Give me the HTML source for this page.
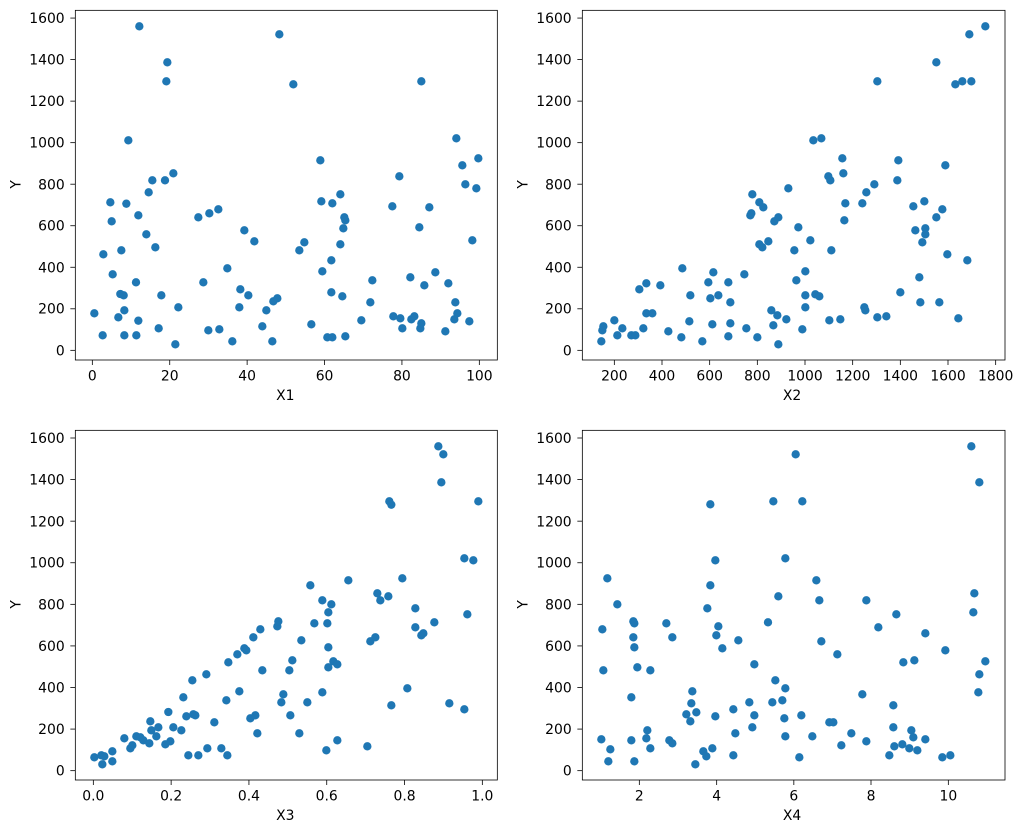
<!DOCTYPE html>
<html><head><meta charset="utf-8"><style>
html,body{margin:0;padding:0;background:#fff;}
svg{display:block;}
text{font-family:"DejaVu Sans","Liberation Sans",sans-serif;font-size:41.7px;fill:#000;}
.pts circle{fill:#1f77b4;}
.ax line{stroke:#000;stroke-width:2.4;}
.fr{fill:none;stroke:#000;stroke-width:2.4;}
</style></head><body>
<svg width="1023" height="833" viewBox="0 0 1023 833" xmlns="http://www.w3.org/2000/svg">
<!-- Panel 1 -->
<g transform="translate(0,0) scale(0.3333333)">
<g class="pts">
<circle cx="283" cy="940" r="12.5"/><circle cx="308" cy="1006" r="12.5"/><circle cx="310" cy="763" r="12.5"/><circle cx="331" cy="607" r="12.5"/><circle cx="335" cy="664" r="12.5"/><circle cx="338" cy="823" r="12.5"/><circle cx="355" cy="952" r="12.5"/><circle cx="361" cy="882" r="12.5"/><circle cx="364" cy="751" r="12.5"/><circle cx="371" cy="886" r="12.5"/><circle cx="373" cy="931" r="12.5"/><circle cx="373" cy="1006" r="12.5"/><circle cx="379" cy="611" r="12.5"/><circle cx="385" cy="421" r="12.5"/><circle cx="408" cy="847" r="12.5"/><circle cx="409" cy="1006" r="12.5"/><circle cx="415" cy="646" r="12.5"/><circle cx="415" cy="962" r="12.5"/><circle cx="418" cy="79" r="12.5"/><circle cx="439" cy="703" r="12.5"/><circle cx="446" cy="577" r="12.5"/><circle cx="457" cy="541" r="12.5"/><circle cx="466" cy="742" r="12.5"/><circle cx="476" cy="985" r="12.5"/><circle cx="484" cy="886" r="12.5"/><circle cx="495" cy="541" r="12.5"/><circle cx="499" cy="244" r="12.5"/><circle cx="502" cy="187" r="12.5"/><circle cx="520" cy="520" r="12.5"/><circle cx="526" cy="1033" r="12.5"/><circle cx="535" cy="922" r="12.5"/><circle cx="595" cy="652" r="12.5"/><circle cx="610" cy="847" r="12.5"/><circle cx="625" cy="991" r="12.5"/><circle cx="628" cy="640" r="12.5"/><circle cx="655" cy="628" r="12.5"/><circle cx="658" cy="988" r="12.5"/><circle cx="682" cy="805" r="12.5"/><circle cx="697" cy="1024" r="12.5"/><circle cx="718" cy="922" r="12.5"/><circle cx="721" cy="868" r="12.5"/><circle cx="733" cy="691" r="12.5"/><circle cx="745" cy="886" r="12.5"/><circle cx="763" cy="724" r="12.5"/><circle cx="787" cy="979" r="12.5"/><circle cx="799" cy="931" r="12.5"/><circle cx="817" cy="1024" r="12.5"/><circle cx="820" cy="904" r="12.5"/><circle cx="832" cy="895" r="12.5"/><circle cx="838" cy="103" r="12.5"/><circle cx="880" cy="253" r="12.5"/><circle cx="898" cy="751" r="12.5"/><circle cx="913" cy="727" r="12.5"/><circle cx="934" cy="973" r="12.5"/><circle cx="961" cy="481" r="12.5"/><circle cx="964" cy="604" r="12.5"/><circle cx="967" cy="814" r="12.5"/><circle cx="982" cy="1012" r="12.5"/><circle cx="994" cy="781" r="12.5"/><circle cx="994" cy="877" r="12.5"/><circle cx="997" cy="610" r="12.5"/><circle cx="997" cy="1012" r="12.5"/><circle cx="1021" cy="583" r="12.5"/><circle cx="1021" cy="733" r="12.5"/><circle cx="1027" cy="889" r="12.5"/><circle cx="1030" cy="685" r="12.5"/><circle cx="1033" cy="652" r="12.5"/><circle cx="1036" cy="661" r="12.5"/><circle cx="1036" cy="1009" r="12.5"/><circle cx="1084" cy="961" r="12.5"/><circle cx="1111" cy="907" r="12.5"/><circle cx="1117" cy="841" r="12.5"/><circle cx="1177" cy="619" r="12.5"/><circle cx="1180" cy="949" r="12.5"/><circle cx="1198" cy="529" r="12.5"/><circle cx="1201" cy="955" r="12.5"/><circle cx="1207" cy="985" r="12.5"/><circle cx="1231" cy="832" r="12.5"/><circle cx="1234" cy="958" r="12.5"/><circle cx="1243" cy="949" r="12.5"/><circle cx="1258" cy="682" r="12.5"/><circle cx="1261" cy="985" r="12.5"/><circle cx="1264" cy="244" r="12.5"/><circle cx="1264" cy="970" r="12.5"/><circle cx="1273" cy="856" r="12.5"/><circle cx="1288" cy="622" r="12.5"/><circle cx="1306" cy="817" r="12.5"/><circle cx="1336" cy="994" r="12.5"/><circle cx="1345" cy="850" r="12.5"/><circle cx="1363" cy="958" r="12.5"/><circle cx="1366" cy="907" r="12.5"/><circle cx="1369" cy="415" r="12.5"/><circle cx="1372" cy="940" r="12.5"/><circle cx="1387" cy="496" r="12.5"/><circle cx="1396" cy="553" r="12.5"/><circle cx="1408" cy="964" r="12.5"/><circle cx="1417" cy="721" r="12.5"/><circle cx="1429" cy="565" r="12.5"/><circle cx="1435" cy="475" r="12.5"/>
</g>
<rect class="fr" x="226" y="31" width="1266" height="1049"/>
<g class="ax">
<line x1="211" y1="1051" x2="226" y2="1051"/><line x1="211" y1="926.4" x2="226" y2="926.4"/><line x1="211" y1="801.8" x2="226" y2="801.8"/><line x1="211" y1="677.2" x2="226" y2="677.2"/><line x1="211" y1="552.6" x2="226" y2="552.6"/><line x1="211" y1="428" x2="226" y2="428"/><line x1="211" y1="303.4" x2="226" y2="303.4"/><line x1="211" y1="178.8" x2="226" y2="178.8"/><line x1="211" y1="54.2" x2="226" y2="54.2"/>
<line x1="277" y1="1080" x2="277" y2="1095"/><line x1="509.2" y1="1080" x2="509.2" y2="1095"/><line x1="741.4" y1="1080" x2="741.4" y2="1095"/><line x1="973.6" y1="1080" x2="973.6" y2="1095"/><line x1="1205.8" y1="1080" x2="1205.8" y2="1095"/><line x1="1438" y1="1080" x2="1438" y2="1095"/>
</g>
<g text-anchor="end">
<text x="194" y="1066">0</text><text x="194" y="941">200</text><text x="194" y="817">400</text><text x="194" y="692">600</text><text x="194" y="568">800</text><text x="194" y="443">1000</text><text x="194" y="318">1200</text><text x="194" y="194">1400</text><text x="194" y="69">1600</text>
</g>
<g text-anchor="middle">
<text x="277" y="1142">0</text><text x="509.2" y="1142">20</text><text x="741.4" y="1142">40</text><text x="973.6" y="1142">60</text><text x="1205.8" y="1142">80</text><text x="1438" y="1142">100</text>
<text x="856" y="1200">X1</text>
<text transform="translate(62,553) rotate(-90)">Y</text>
</g>
</g>

<!-- Panel 2 -->
<g transform="translate(500,0) scale(0.3333333)">
<g class="pts">
<circle cx="304" cy="1024" r="12.5"/><circle cx="307" cy="991" r="12.5"/><circle cx="310" cy="979" r="12.5"/><circle cx="343" cy="961" r="12.5"/><circle cx="352" cy="1006" r="12.5"/><circle cx="367" cy="985" r="12.5"/><circle cx="394" cy="1006" r="12.5"/><circle cx="406" cy="1006" r="12.5"/><circle cx="418" cy="868" r="12.5"/><circle cx="430" cy="985" r="12.5"/><circle cx="439" cy="850" r="12.5"/><circle cx="439" cy="940" r="12.5"/><circle cx="457" cy="940" r="12.5"/><circle cx="481" cy="856" r="12.5"/><circle cx="505" cy="994" r="12.5"/><circle cx="544" cy="1012" r="12.5"/><circle cx="547" cy="805" r="12.5"/><circle cx="568" cy="964" r="12.5"/><circle cx="571" cy="886" r="12.5"/><circle cx="607" cy="1024" r="12.5"/><circle cx="625" cy="847" r="12.5"/><circle cx="631" cy="895" r="12.5"/><circle cx="637" cy="973" r="12.5"/><circle cx="640" cy="817" r="12.5"/><circle cx="655" cy="886" r="12.5"/><circle cx="685" cy="1009" r="12.5"/><circle cx="685" cy="847" r="12.5"/><circle cx="691" cy="907" r="12.5"/><circle cx="691" cy="970" r="12.5"/><circle cx="733" cy="823" r="12.5"/><circle cx="739" cy="985" r="12.5"/><circle cx="751" cy="646" r="12.5"/><circle cx="754" cy="640" r="12.5"/><circle cx="757" cy="583" r="12.5"/><circle cx="772" cy="1012" r="12.5"/><circle cx="778" cy="733" r="12.5"/><circle cx="778" cy="607" r="12.5"/><circle cx="787" cy="742" r="12.5"/><circle cx="790" cy="622" r="12.5"/><circle cx="805" cy="724" r="12.5"/><circle cx="814" cy="931" r="12.5"/><circle cx="820" cy="976" r="12.5"/><circle cx="823" cy="664" r="12.5"/><circle cx="832" cy="946" r="12.5"/><circle cx="835" cy="652" r="12.5"/><circle cx="835" cy="1033" r="12.5"/><circle cx="859" cy="958" r="12.5"/><circle cx="865" cy="565" r="12.5"/><circle cx="883" cy="751" r="12.5"/><circle cx="889" cy="841" r="12.5"/><circle cx="895" cy="682" r="12.5"/><circle cx="907" cy="988" r="12.5"/><circle cx="916" cy="814" r="12.5"/><circle cx="916" cy="886" r="12.5"/><circle cx="916" cy="922" r="12.5"/><circle cx="931" cy="721" r="12.5"/><circle cx="940" cy="421" r="12.5"/><circle cx="946" cy="883" r="12.5"/><circle cx="958" cy="889" r="12.5"/><circle cx="964" cy="415" r="12.5"/><circle cx="985" cy="529" r="12.5"/><circle cx="988" cy="961" r="12.5"/><circle cx="991" cy="541" r="12.5"/><circle cx="994" cy="751" r="12.5"/><circle cx="1021" cy="958" r="12.5"/><circle cx="1027" cy="475" r="12.5"/><circle cx="1030" cy="520" r="12.5"/><circle cx="1036" cy="610" r="12.5"/><circle cx="1033" cy="661" r="12.5"/><circle cx="1087" cy="610" r="12.5"/><circle cx="1093" cy="922" r="12.5"/><circle cx="1096" cy="931" r="12.5"/><circle cx="1099" cy="577" r="12.5"/><circle cx="1123" cy="553" r="12.5"/><circle cx="1132" cy="244" r="12.5"/><circle cx="1132" cy="952" r="12.5"/><circle cx="1159" cy="949" r="12.5"/><circle cx="1192" cy="541" r="12.5"/><circle cx="1195" cy="481" r="12.5"/><circle cx="1201" cy="877" r="12.5"/><circle cx="1240" cy="619" r="12.5"/><circle cx="1246" cy="691" r="12.5"/><circle cx="1258" cy="832" r="12.5"/><circle cx="1261" cy="907" r="12.5"/><circle cx="1267" cy="727" r="12.5"/><circle cx="1273" cy="604" r="12.5"/><circle cx="1276" cy="685" r="12.5"/><circle cx="1276" cy="703" r="12.5"/><circle cx="1309" cy="187" r="12.5"/><circle cx="1309" cy="652" r="12.5"/><circle cx="1318" cy="907" r="12.5"/><circle cx="1327" cy="628" r="12.5"/><circle cx="1336" cy="496" r="12.5"/><circle cx="1342" cy="763" r="12.5"/><circle cx="1375" cy="955" r="12.5"/><circle cx="1366" cy="253" r="12.5"/><circle cx="1387" cy="244" r="12.5"/><circle cx="1402" cy="781" r="12.5"/><circle cx="1408" cy="103" r="12.5"/><circle cx="1414" cy="244" r="12.5"/><circle cx="1456" cy="79" r="12.5"/>
</g>
<rect class="fr" x="247" y="31" width="1268" height="1049"/>
<g class="ax">
<line x1="232" y1="1051" x2="247" y2="1051"/><line x1="232" y1="926.4" x2="247" y2="926.4"/><line x1="232" y1="801.8" x2="247" y2="801.8"/><line x1="232" y1="677.2" x2="247" y2="677.2"/><line x1="232" y1="552.6" x2="247" y2="552.6"/><line x1="232" y1="428" x2="247" y2="428"/><line x1="232" y1="303.4" x2="247" y2="303.4"/><line x1="232" y1="178.8" x2="247" y2="178.8"/><line x1="232" y1="54.2" x2="247" y2="54.2"/>
<line x1="343" y1="1080" x2="343" y2="1095"/><line x1="486" y1="1080" x2="486" y2="1095"/><line x1="629" y1="1080" x2="629" y2="1095"/><line x1="772" y1="1080" x2="772" y2="1095"/><line x1="915" y1="1080" x2="915" y2="1095"/><line x1="1058" y1="1080" x2="1058" y2="1095"/><line x1="1201" y1="1080" x2="1201" y2="1095"/><line x1="1344" y1="1080" x2="1344" y2="1095"/><line x1="1487" y1="1080" x2="1487" y2="1095"/>
</g>
<g text-anchor="end">
<text x="215" y="1066">0</text><text x="215" y="941">200</text><text x="215" y="817">400</text><text x="215" y="692">600</text><text x="215" y="568">800</text><text x="215" y="443">1000</text><text x="215" y="318">1200</text><text x="215" y="194">1400</text><text x="215" y="69">1600</text>
</g>
<g text-anchor="middle">
<text x="343" y="1142">200</text><text x="486" y="1142">400</text><text x="629" y="1142">600</text><text x="772" y="1142">800</text><text x="915" y="1142">1000</text><text x="1058" y="1142">1200</text><text x="1201" y="1142">1400</text><text x="1344" y="1142">1600</text><text x="1487" y="1142">1800</text>
<text x="876" y="1200">X2</text>
<text transform="translate(83,553) rotate(-90)">Y</text>
</g>
</g>

<!-- Panel 3 -->
<g transform="translate(0,415) scale(0.3333333)">
<g class="pts">
<circle cx="283" cy="1027" r="12.5"/><circle cx="304" cy="1021" r="12.5"/><circle cx="307" cy="1048" r="12.5"/><circle cx="313" cy="1024" r="12.5"/><circle cx="337" cy="1009" r="12.5"/><circle cx="337" cy="1039" r="12.5"/><circle cx="373" cy="970" r="12.5"/><circle cx="391" cy="1000" r="12.5"/><circle cx="397" cy="991" r="12.5"/><circle cx="409" cy="964" r="12.5"/><circle cx="421" cy="967" r="12.5"/><circle cx="430" cy="976" r="12.5"/><circle cx="448" cy="985" r="12.5"/><circle cx="451" cy="919" r="12.5"/><circle cx="454" cy="946" r="12.5"/><circle cx="469" cy="964" r="12.5"/><circle cx="475" cy="937" r="12.5"/><circle cx="496" cy="988" r="12.5"/><circle cx="505" cy="891" r="12.5"/><circle cx="511" cy="979" r="12.5"/><circle cx="520" cy="937" r="12.5"/><circle cx="544" cy="946" r="12.5"/><circle cx="550" cy="847" r="12.5"/><circle cx="559" cy="904" r="12.5"/><circle cx="565" cy="1021" r="12.5"/><circle cx="577" cy="796" r="12.5"/><circle cx="580" cy="898" r="12.5"/><circle cx="586" cy="901" r="12.5"/><circle cx="595" cy="1021" r="12.5"/><circle cx="619" cy="778" r="12.5"/><circle cx="622" cy="1000" r="12.5"/><circle cx="643" cy="922" r="12.5"/><circle cx="664" cy="1000" r="12.5"/><circle cx="679" cy="856" r="12.5"/><circle cx="682" cy="1021" r="12.5"/><circle cx="685" cy="742" r="12.5"/><circle cx="712" cy="718" r="12.5"/><circle cx="718" cy="829" r="12.5"/><circle cx="733" cy="700" r="12.5"/><circle cx="739" cy="706" r="12.5"/><circle cx="751" cy="910" r="12.5"/><circle cx="760" cy="667" r="12.5"/><circle cx="766" cy="901" r="12.5"/><circle cx="772" cy="955" r="12.5"/><circle cx="781" cy="643" r="12.5"/><circle cx="787" cy="766" r="12.5"/><circle cx="832" cy="634" r="12.5"/><circle cx="835" cy="619" r="12.5"/><circle cx="844" cy="862" r="12.5"/><circle cx="850" cy="838" r="12.5"/><circle cx="868" cy="766" r="12.5"/><circle cx="871" cy="901" r="12.5"/><circle cx="877" cy="736" r="12.5"/><circle cx="898" cy="955" r="12.5"/><circle cx="904" cy="676" r="12.5"/><circle cx="922" cy="862" r="12.5"/><circle cx="931" cy="511" r="12.5"/><circle cx="943" cy="625" r="12.5"/><circle cx="967" cy="556" r="12.5"/><circle cx="967" cy="832" r="12.5"/><circle cx="979" cy="1006" r="12.5"/><circle cx="982" cy="625" r="12.5"/><circle cx="985" cy="592" r="12.5"/><circle cx="985" cy="757" r="12.5"/><circle cx="985" cy="697" r="12.5"/><circle cx="994" cy="568" r="12.5"/><circle cx="1000" cy="739" r="12.5"/><circle cx="1012" cy="976" r="12.5"/><circle cx="1012" cy="748" r="12.5"/><circle cx="1045" cy="496" r="12.5"/><circle cx="1102" cy="994" r="12.5"/><circle cx="1111" cy="679" r="12.5"/><circle cx="1126" cy="667" r="12.5"/><circle cx="1132" cy="535" r="12.5"/><circle cx="1141" cy="556" r="12.5"/><circle cx="1165" cy="544" r="12.5"/><circle cx="1168" cy="259" r="12.5"/><circle cx="1174" cy="269" r="12.5"/><circle cx="1174" cy="871" r="12.5"/><circle cx="1207" cy="490" r="12.5"/><circle cx="1222" cy="820" r="12.5"/><circle cx="1246" cy="580" r="12.5"/><circle cx="1246" cy="637" r="12.5"/><circle cx="1264" cy="661" r="12.5"/><circle cx="1270" cy="655" r="12.5"/><circle cx="1303" cy="622" r="12.5"/><circle cx="1315" cy="94" r="12.5"/><circle cx="1324" cy="202" r="12.5"/><circle cx="1330" cy="118" r="12.5"/><circle cx="1348" cy="865" r="12.5"/><circle cx="1393" cy="430" r="12.5"/><circle cx="1393" cy="883" r="12.5"/><circle cx="1402" cy="598" r="12.5"/><circle cx="1420" cy="436" r="12.5"/><circle cx="1435" cy="259" r="12.5"/>
</g>
<rect class="fr" x="226" y="46" width="1266" height="1049"/>
<g class="ax">
<line x1="211" y1="1067" x2="226" y2="1067"/><line x1="211" y1="942.25" x2="226" y2="942.25"/><line x1="211" y1="817.5" x2="226" y2="817.5"/><line x1="211" y1="692.75" x2="226" y2="692.75"/><line x1="211" y1="568" x2="226" y2="568"/><line x1="211" y1="443.25" x2="226" y2="443.25"/><line x1="211" y1="318.5" x2="226" y2="318.5"/><line x1="211" y1="193.75" x2="226" y2="193.75"/><line x1="211" y1="69" x2="226" y2="69"/>
<line x1="280" y1="1095" x2="280" y2="1110"/><line x1="513.4" y1="1095" x2="513.4" y2="1110"/><line x1="746.8" y1="1095" x2="746.8" y2="1110"/><line x1="980.2" y1="1095" x2="980.2" y2="1110"/><line x1="1213.6" y1="1095" x2="1213.6" y2="1110"/><line x1="1447" y1="1095" x2="1447" y2="1110"/>
</g>
<g text-anchor="end">
<text x="194" y="1082">0</text><text x="194" y="957">200</text><text x="194" y="832">400</text><text x="194" y="708">600</text><text x="194" y="583">800</text><text x="194" y="458">1000</text><text x="194" y="334">1200</text><text x="194" y="209">1400</text><text x="194" y="84">1600</text>
</g>
<g text-anchor="middle">
<text x="280" y="1157">0.0</text><text x="513.4" y="1157">0.2</text><text x="746.8" y="1157">0.4</text><text x="980.2" y="1157">0.6</text><text x="1213.6" y="1157">0.8</text><text x="1447" y="1157">1.0</text>
<text x="856" y="1215">X3</text>
<text transform="translate(62,568) rotate(-90)">Y</text>
</g>
</g>

<!-- Panel 4 -->
<g transform="translate(500,415) scale(0.3333333)">
<g class="pts">
<circle cx="304" cy="973" r="12.5"/><circle cx="307" cy="643" r="12.5"/><circle cx="310" cy="766" r="12.5"/><circle cx="322" cy="490" r="12.5"/><circle cx="325" cy="1039" r="12.5"/><circle cx="331" cy="1003" r="12.5"/><circle cx="352" cy="568" r="12.5"/><circle cx="394" cy="847" r="12.5"/><circle cx="394" cy="976" r="12.5"/><circle cx="400" cy="619" r="12.5"/><circle cx="400" cy="667" r="12.5"/><circle cx="403" cy="697" r="12.5"/><circle cx="403" cy="625" r="12.5"/><circle cx="403" cy="1039" r="12.5"/><circle cx="412" cy="757" r="12.5"/><circle cx="439" cy="970" r="12.5"/><circle cx="442" cy="946" r="12.5"/><circle cx="451" cy="766" r="12.5"/><circle cx="451" cy="1000" r="12.5"/><circle cx="499" cy="625" r="12.5"/><circle cx="508" cy="976" r="12.5"/><circle cx="517" cy="667" r="12.5"/><circle cx="517" cy="985" r="12.5"/><circle cx="559" cy="898" r="12.5"/><circle cx="571" cy="919" r="12.5"/><circle cx="574" cy="865" r="12.5"/><circle cx="577" cy="829" r="12.5"/><circle cx="589" cy="892" r="12.5"/><circle cx="586" cy="1048" r="12.5"/><circle cx="610" cy="1009" r="12.5"/><circle cx="619" cy="1024" r="12.5"/><circle cx="622" cy="580" r="12.5"/><circle cx="631" cy="268" r="12.5"/><circle cx="631" cy="511" r="12.5"/><circle cx="637" cy="1000" r="12.5"/><circle cx="646" cy="436" r="12.5"/><circle cx="646" cy="904" r="12.5"/><circle cx="649" cy="661" r="12.5"/><circle cx="655" cy="634" r="12.5"/><circle cx="667" cy="700" r="12.5"/><circle cx="700" cy="1021" r="12.5"/><circle cx="700" cy="883" r="12.5"/><circle cx="706" cy="955" r="12.5"/><circle cx="715" cy="676" r="12.5"/><circle cx="748" cy="862" r="12.5"/><circle cx="757" cy="937" r="12.5"/><circle cx="763" cy="748" r="12.5"/><circle cx="763" cy="901" r="12.5"/><circle cx="804" cy="622" r="12.5"/><circle cx="817" cy="862" r="12.5"/><circle cx="820" cy="259" r="12.5"/><circle cx="826" cy="796" r="12.5"/><circle cx="835" cy="544" r="12.5"/><circle cx="847" cy="856" r="12.5"/><circle cx="853" cy="910" r="12.5"/><circle cx="856" cy="820" r="12.5"/><circle cx="856" cy="430" r="12.5"/><circle cx="856" cy="964" r="12.5"/><circle cx="887" cy="118" r="12.5"/><circle cx="898" cy="1027" r="12.5"/><circle cx="904" cy="901" r="12.5"/><circle cx="907" cy="259" r="12.5"/><circle cx="937" cy="964" r="12.5"/><circle cx="949" cy="496" r="12.5"/><circle cx="958" cy="556" r="12.5"/><circle cx="964" cy="679" r="12.5"/><circle cx="988" cy="922" r="12.5"/><circle cx="1000" cy="922" r="12.5"/><circle cx="1012" cy="718" r="12.5"/><circle cx="1024" cy="991" r="12.5"/><circle cx="1054" cy="955" r="12.5"/><circle cx="1087" cy="838" r="12.5"/><circle cx="1099" cy="556" r="12.5"/><circle cx="1099" cy="979" r="12.5"/><circle cx="1135" cy="637" r="12.5"/><circle cx="1168" cy="1021" r="12.5"/><circle cx="1180" cy="871" r="12.5"/><circle cx="1180" cy="937" r="12.5"/><circle cx="1183" cy="994" r="12.5"/><circle cx="1189" cy="598" r="12.5"/><circle cx="1207" cy="988" r="12.5"/><circle cx="1210" cy="742" r="12.5"/><circle cx="1228" cy="1000" r="12.5"/><circle cx="1234" cy="946" r="12.5"/><circle cx="1240" cy="967" r="12.5"/><circle cx="1243" cy="736" r="12.5"/><circle cx="1252" cy="1006" r="12.5"/><circle cx="1276" cy="655" r="12.5"/><circle cx="1276" cy="973" r="12.5"/><circle cx="1327" cy="1027" r="12.5"/><circle cx="1336" cy="706" r="12.5"/><circle cx="1351" cy="1021" r="12.5"/><circle cx="1414" cy="94" r="12.5"/><circle cx="1420" cy="592" r="12.5"/><circle cx="1423" cy="535" r="12.5"/><circle cx="1438" cy="202" r="12.5"/><circle cx="1438" cy="778" r="12.5"/><circle cx="1435" cy="832" r="12.5"/><circle cx="1456" cy="739" r="12.5"/>
</g>
<rect class="fr" x="247" y="46" width="1268" height="1049"/>
<g class="ax">
<line x1="232" y1="1067" x2="247" y2="1067"/><line x1="232" y1="942.25" x2="247" y2="942.25"/><line x1="232" y1="817.5" x2="247" y2="817.5"/><line x1="232" y1="692.75" x2="247" y2="692.75"/><line x1="232" y1="568" x2="247" y2="568"/><line x1="232" y1="443.25" x2="247" y2="443.25"/><line x1="232" y1="318.5" x2="247" y2="318.5"/><line x1="232" y1="193.75" x2="247" y2="193.75"/><line x1="232" y1="69" x2="247" y2="69"/>
<line x1="418" y1="1095" x2="418" y2="1110"/><line x1="650" y1="1095" x2="650" y2="1110"/><line x1="881.5" y1="1095" x2="881.5" y2="1110"/><line x1="1113" y1="1095" x2="1113" y2="1110"/><line x1="1345" y1="1095" x2="1345" y2="1110"/>
</g>
<g text-anchor="end">
<text x="215" y="1082">0</text><text x="215" y="957">200</text><text x="215" y="832">400</text><text x="215" y="708">600</text><text x="215" y="583">800</text><text x="215" y="458">1000</text><text x="215" y="334">1200</text><text x="215" y="209">1400</text><text x="215" y="84">1600</text>
</g>
<g text-anchor="middle">
<text x="418" y="1157">2</text><text x="650" y="1157">4</text><text x="881.5" y="1157">6</text><text x="1113" y="1157">8</text><text x="1345" y="1157">10</text>
<text x="876" y="1215">X4</text>
<text transform="translate(83,568) rotate(-90)">Y</text>
</g>
</g>
</svg>
</body></html>
